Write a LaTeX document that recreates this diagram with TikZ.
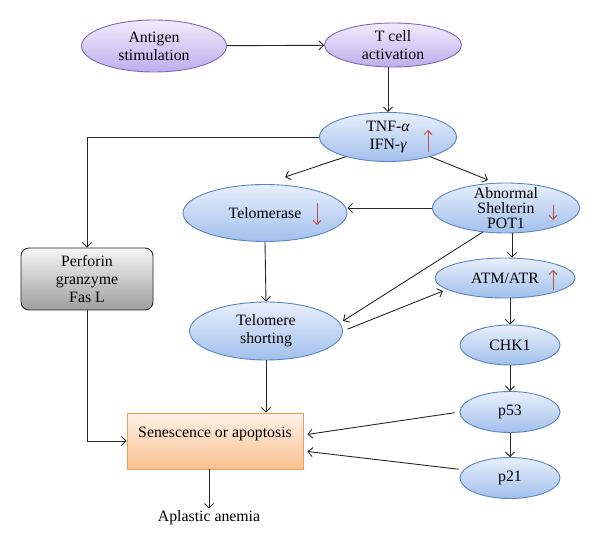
\documentclass[tikz,border=0pt]{standalone}
\usepackage{fontspec}
\setmainfont{Liberation Serif}
\usetikzlibrary{arrows.meta,calc,shapes.geometric}
\definecolor{bluetop}{HTML}{E8EFFB}
\definecolor{bluebot}{HTML}{A2C0EC}
\definecolor{blueline}{HTML}{5A84C4}
\definecolor{purptop}{HTML}{F0ECFC}
\definecolor{purpbot}{HTML}{BEAEEC}
\definecolor{purpline}{HTML}{7E6AB8}
\definecolor{orgtop}{HTML}{FEF2E8}
\definecolor{orgbot}{HTML}{FAC08F}
\definecolor{orgline}{HTML}{F39C55}
\definecolor{graytop}{HTML}{F6F6F6}
\definecolor{graybot}{HTML}{9E9E9E}
\definecolor{redarrow}{HTML}{C0504D}
\begin{document}
\begin{tikzpicture}[x=1pt,y=-1pt,
  font=\fontsize{15.8}{18}\selectfont,
  bell/.style={ellipse, draw=blueline, line width=0.9pt, top color=bluetop, bottom color=bluebot, inner sep=0pt, align=center},
  pell/.style={ellipse, draw=purpline, line width=0.9pt, top color=purptop, bottom color=purpbot, inner sep=0pt, align=center},
  graybox/.style={rectangle, rounded corners=8pt, draw=black!85, line width=0.9pt, top color=graytop, bottom color=graybot, inner sep=0pt, align=center},
  senbox/.style={rectangle, draw=orgline, line width=0.9pt, top color=orgtop, bottom color=orgbot, inner sep=0pt},
  arr/.style={draw=black!85, line width=0.9pt, -{Straight Barb[length=4.5pt,width=9pt]}},
  redarr/.style={draw=redarrow, line width=0.9pt, -{Straight Barb[length=4pt,width=8pt]}}]
\useasboundingbox (0,0) rectangle (600,545);

% nodes
\node[pell, minimum width=145pt, minimum height=52pt] (ant) at (154,46) {Antigen\\stimulation};
\node[pell, minimum width=137pt, minimum height=44pt, inner ysep=-4pt] (tcell) at (393,45) {T cell\\activation};
\node[bell, minimum width=137pt, minimum height=49pt, inner ysep=-3pt] (tnf) at (388,137) {TNF-{\itshape α}\\IFN-{\itshape γ}};
\node[bell, minimum width=164pt, minimum height=57pt] (telo) at (265,213) {Telomerase};
\node[bell, minimum width=147pt, minimum height=50pt, inner ysep=-7pt, font=\fontsize{15.8}{14.8}\selectfont] (abn) at (506,208) {Abnormal\\Shelterin\\POT1};
\node[bell, minimum width=140pt, minimum height=40pt] (atm) at (505,278) {ATM/ATR};
\node[bell, minimum width=153pt, minimum height=58pt] (tsh) at (266,331) {Telomere\\shorting};
\node[bell, minimum width=100pt, minimum height=40pt] (chk) at (510,345) {CHK1};
\node[bell, minimum width=100pt, minimum height=41pt] (p53) at (510,412) {p53};
\node[bell, minimum width=100pt, minimum height=41pt] (p21) at (510,478) {p21};
\node[graybox, minimum width=132pt, minimum height=62pt] (perf) at (87,279) {Perforin\\granzyme\\Fas L};
\node[senbox, minimum width=176pt, minimum height=56pt, text height=10pt, text depth=18pt] (sen) at (215,441) {Senescence or apoptosis};
\node[inner sep=2pt] (apl) at (209,518) {Aplastic anemia};

% free ends
\coordinate (teloin) at (285,177);
\coordinate (abnin) at (488,180);
\coordinate (tshin) at (343,321);
\coordinate (atmin) at (443,291);

% connectors
\draw[arr] (ant) -- (tcell);
\draw[arr] (tnf.north |- tcell.south) -- (tnf.north);
\draw[arr] (tnf.west) -| (perf.north);
\draw[arr] (tnf.205) -- (teloin);
\draw[arr] (tnf.-25) -- (abnin);
\draw[arr] (abn.west) -- (abn.west -| telo.east);
\draw[arr] ([xshift=6pt]abn.south) -- ([xshift=6pt]abn.south |- atm.north);
\draw[arr] (abn.226) -- (tshin);
\draw[arr, shorten <=5pt] (tsh.east) -- (atmin);
\draw[arr] (telo.south) -- (tsh.north);
\draw[arr] (tsh.south) -- (tsh.south |- sen.north);
\draw[arr] (chk.north |- atm.south) -- (chk.north);
\draw[arr] (chk.south) -- (p53.north);
\draw[arr] (p53.south) -- (p21.north);
\draw[arr] (perf.south) |- (sen.west);
\draw[arr, shorten <=5pt, shorten >=4pt] (p53.west) -- ([yshift=6pt]sen.east);
\draw[arr, shorten <=5pt, shorten >=4pt] (p21.170) -- ([yshift=-10pt]sen.east);
\draw[arr] (apl.north |- sen.south) -- (apl.north);

% red indicator arrows
\draw[redarr] (428,152) -- (428,130);
\draw[redarr] (317,203) -- (317,225);
\draw[redarr] (553,205) -- (553,220);
\draw[redarr] (553,290) -- (553,270);
\end{tikzpicture}
\end{document}
